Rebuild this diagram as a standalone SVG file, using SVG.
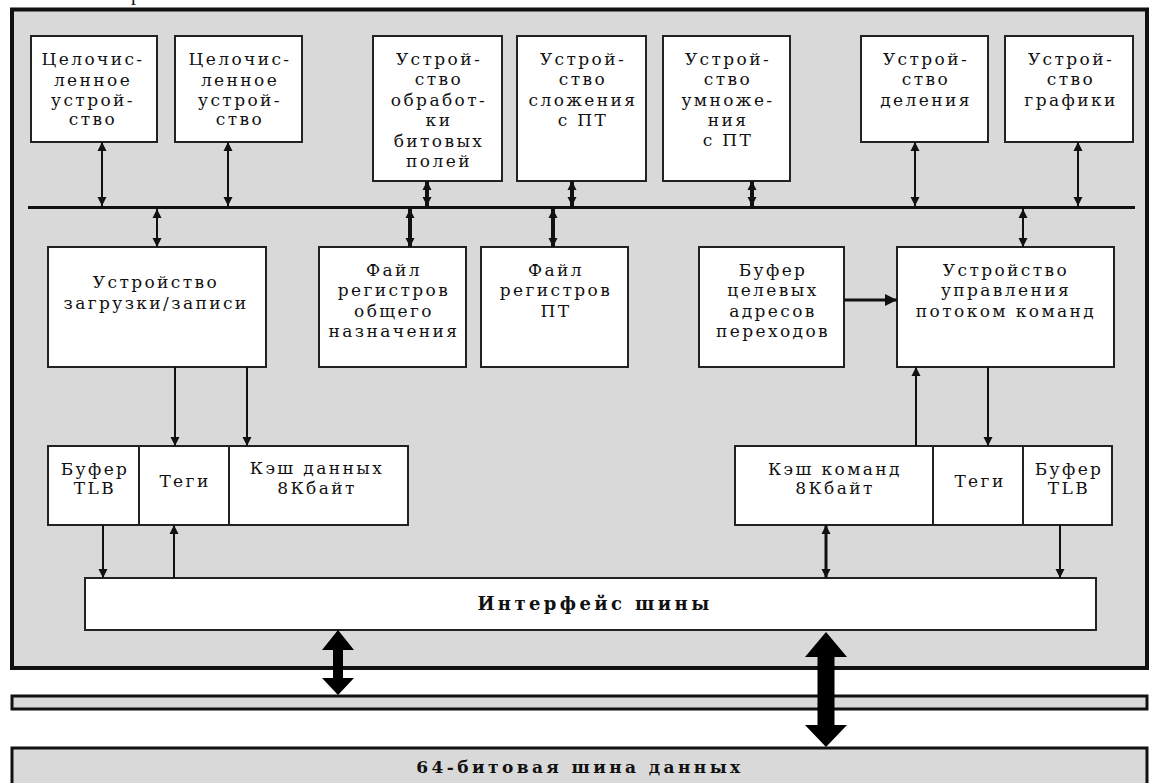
<svg xmlns="http://www.w3.org/2000/svg" width="1155" height="783" viewBox="0 0 1155 783">
<style>
.frame{fill:#d9d9d9;stroke:#111;stroke-width:4}
.box{fill:#fff;stroke:#222;stroke-width:2}
.t{font-family:"DejaVu Serif","Liberation Serif",serif;font-size:17px;letter-spacing:2.4px;text-anchor:middle;fill:#111}
.b{font-family:"DejaVu Serif","Liberation Serif",serif;font-weight:bold;font-size:18px;letter-spacing:3.4px;text-anchor:middle;fill:#111}
.ln{stroke:#111;stroke-width:2;fill:none}
.lnt{stroke:#111;stroke-width:4;fill:none}
.big{fill:#000}
</style>
<defs>
<marker id="ah" viewBox="0 0 10 10" refX="10" refY="5" markerWidth="9" markerHeight="14" markerUnits="userSpaceOnUse" orient="auto-start-reverse"><path d="M0,0 L10,5 L0,10 z" fill="#111"/></marker>
<marker id="ahT" viewBox="0 0 10 10" refX="10" refY="5" markerWidth="9" markerHeight="16" markerUnits="userSpaceOnUse" orient="auto-start-reverse"><path d="M0,0 L10,5 L0,10 z" fill="#111"/></marker>
<marker id="ahH" viewBox="0 0 10 10" refX="10" refY="5" markerWidth="12" markerHeight="13" markerUnits="userSpaceOnUse" orient="auto-start-reverse"><path d="M0,0 L10,5 L0,10 z" fill="#111"/></marker>
</defs>
<rect width="1155" height="783" fill="#fff"/>
<text x="131" y="0" style="font-family:'Liberation Serif',serif;font-size:20px;fill:#111">р</text>

<g id="cpu-frame"><rect class="frame" x="12" y="9.5" width="1135" height="658.5"/></g>
<g id="thin-bus"><rect class="frame" x="12" y="696" width="1135" height="13" style="stroke-width:3"/></g>
<g id="data-bus"><rect class="frame" x="12" y="748" width="1135" height="50" style="stroke-width:3"/><text class="b" x="580" y="773" style="font-size:17px">64-битовая шина данных</text></g>

<g id="int1"><rect class="box" x="31" y="36" width="126" height="106"/><text class="t" x="93" y="65">Целочис-</text><text class="t" x="93" y="86">ленное</text><text class="t" x="93" y="106">устрой-</text><text class="t" x="93" y="125">ство</text></g>
<g id="int2"><rect class="box" x="175" y="36" width="127" height="106"/><text class="t" x="240" y="65">Целочис-</text><text class="t" x="240" y="86">ленное</text><text class="t" x="240" y="106">устрой-</text><text class="t" x="240" y="125">ство</text></g>
<g id="bitfield"><rect class="box" x="373" y="36" width="129" height="145"/><text class="t" x="439" y="65">Устрой-</text><text class="t" x="439" y="85">ство</text><text class="t" x="439" y="106">обработ-</text><text class="t" x="439" y="126">ки</text><text class="t" x="439" y="147">битовых</text><text class="t" x="439" y="167">полей</text></g>
<g id="fpadd"><rect class="box" x="517" y="36" width="129" height="145"/><text class="t" x="583" y="65">Устрой-</text><text class="t" x="583" y="85">ство</text><text class="t" x="583" y="106">сложения</text><text class="t" x="583" y="126">с ПТ</text></g>
<g id="fpmul"><rect class="box" x="663" y="36" width="127" height="145"/><text class="t" x="728" y="65">Устрой-</text><text class="t" x="728" y="85">ство</text><text class="t" x="728" y="106">умноже-</text><text class="t" x="728" y="126">ния</text><text class="t" x="728" y="146">с ПТ</text></g>
<g id="div"><rect class="box" x="861" y="36" width="127" height="106"/><text class="t" x="926" y="65">Устрой-</text><text class="t" x="926" y="85">ство</text><text class="t" x="926" y="106">деления</text></g>
<g id="graph"><rect class="box" x="1005" y="36" width="128" height="106"/><text class="t" x="1071" y="65">Устрой-</text><text class="t" x="1071" y="85">ство</text><text class="t" x="1071" y="106">графики</text></g>

<g id="loadstore"><rect class="box" x="48" y="247" width="218" height="120"/><text class="t" x="156" y="288">Устройство</text><text class="t" x="156" y="309">загрузки/записи</text></g>
<g id="gpr"><rect class="box" x="319" y="247" width="147" height="120"/><text class="t" x="394" y="276">Файл</text><text class="t" x="394" y="296">регистров</text><text class="t" x="394" y="317">общего</text><text class="t" x="394" y="337">назначения</text></g>
<g id="fpr"><rect class="box" x="481" y="247" width="147" height="120"/><text class="t" x="556" y="276">Файл</text><text class="t" x="556" y="296">регистров</text><text class="t" x="556" y="317">ПТ</text></g>
<g id="btb"><rect class="box" x="699" y="247" width="145" height="120"/><text class="t" x="773" y="276">Буфер</text><text class="t" x="773" y="296">целевых</text><text class="t" x="773" y="317">адресов</text><text class="t" x="773" y="337">переходов</text></g>
<g id="ifu"><rect class="box" x="897" y="247" width="217" height="120"/><text class="t" x="1006" y="276">Устройство</text><text class="t" x="1006" y="296">управления</text><text class="t" x="1006" y="317">потоком команд</text></g>

<g id="dtlb"><rect class="box" x="48" y="446" width="91" height="79"/><text class="t" x="95" y="475">Буфер</text><text class="t" x="95" y="494">TLB</text></g>
<g id="dtags"><rect class="box" x="139" y="446" width="90" height="79"/><text class="t" x="185" y="487">Теги</text></g>
<g id="dcache"><rect class="box" x="229" y="446" width="179" height="79"/><text class="t" x="317" y="474">Кэш данных</text><text class="t" x="317" y="494">8Кбайт</text></g>
<g id="icache"><rect class="box" x="735" y="446" width="198" height="79"/><text class="t" x="835" y="475">Кэш команд</text><text class="t" x="835" y="494">8Кбайт</text></g>
<g id="itags"><rect class="box" x="933" y="446" width="90" height="79"/><text class="t" x="980" y="487">Теги</text></g>
<g id="itlb"><rect class="box" x="1023" y="446" width="89" height="79"/><text class="t" x="1069" y="475">Буфер</text><text class="t" x="1069" y="494">TLB</text></g>

<g id="biu"><rect class="box" x="85" y="578" width="1011" height="52"/><text class="b" x="595" y="610">Интерфейс шины</text></g>

<g id="connectors">
<line x1="28" y1="207.5" x2="1135" y2="207.5" stroke="#111" stroke-width="3"/>
<line class="ln" x1="102" y1="142" x2="102" y2="206" marker-start="url(#ah)" marker-end="url(#ah)"/>
<line class="ln" x1="228" y1="142" x2="228" y2="206" marker-start="url(#ah)" marker-end="url(#ah)"/>
<line class="ln" x1="915" y1="142" x2="915" y2="206" marker-start="url(#ah)" marker-end="url(#ah)"/>
<line class="ln" x1="1078" y1="142" x2="1078" y2="206" marker-start="url(#ah)" marker-end="url(#ah)"/>
<line class="lnt" x1="427" y1="181" x2="427" y2="206" marker-start="url(#ahT)" marker-end="url(#ahT)"/>
<line class="lnt" x1="572" y1="181" x2="572" y2="206" marker-start="url(#ahT)" marker-end="url(#ahT)"/>
<line class="lnt" x1="752" y1="181" x2="752" y2="206" marker-start="url(#ahT)" marker-end="url(#ahT)"/>
<line class="ln" x1="157" y1="209" x2="157" y2="247" marker-start="url(#ah)" marker-end="url(#ah)"/>
<line class="lnt" x1="410" y1="209" x2="410" y2="247" marker-start="url(#ahT)" marker-end="url(#ahT)"/>
<line class="lnt" x1="553" y1="209" x2="553" y2="247" marker-start="url(#ahT)" marker-end="url(#ahT)"/>
<line class="ln" x1="1023" y1="209" x2="1023" y2="247" marker-start="url(#ah)" marker-end="url(#ah)"/>
<line x1="844" y1="300" x2="897" y2="300" stroke="#111" stroke-width="3" marker-end="url(#ahH)"/>
<line class="ln" x1="175" y1="367" x2="175" y2="446" marker-end="url(#ah)"/>
<line class="ln" x1="247" y1="367" x2="247" y2="446" marker-end="url(#ah)"/>
<line class="ln" x1="916" y1="446" x2="916" y2="367" marker-end="url(#ah)"/>
<line class="ln" x1="988" y1="367" x2="988" y2="446" marker-end="url(#ah)"/>
<line class="ln" x1="103" y1="525" x2="103" y2="578" marker-end="url(#ah)"/>
<line class="ln" x1="174" y1="578" x2="174" y2="525" marker-end="url(#ah)"/>
<line x1="826" y1="525" x2="826" y2="578" stroke="#111" stroke-width="3" marker-start="url(#ah)" marker-end="url(#ah)"/>
<line class="ln" x1="1060" y1="525" x2="1060" y2="578" marker-end="url(#ah)"/>
<path class="big" d="M338,630 L354,650 L343,650 L343,678 L354,678 L338,695 L322,678 L333,678 L333,650 L322,650 Z"/>
<path class="big" d="M826,632 L847,657 L834.5,657 L834.5,725 L847,725 L826,747 L805,725 L817.5,725 L817.5,657 L805,657 Z"/>
</g>
</svg>
